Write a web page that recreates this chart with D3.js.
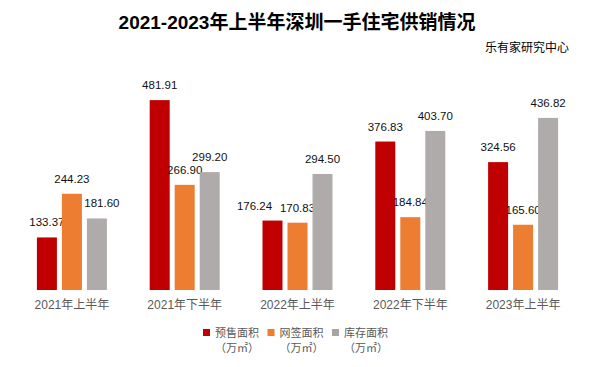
<!DOCTYPE html>
<html>
<head>
<meta charset="utf-8">
<script src="https://cdn.jsdelivr.net/npm/d3@7"></script>
<style>
  html, body { margin: 0; padding: 0; background: #fff; }
  svg { display: block; }
</style>
</head>
<body>
<svg id="chart" width="597" height="367"></svg>
<script>
const categories = ["2021年上半年", "2021年下半年", "2022年上半年", "2022年下半年", "2023年上半年"];
const seriesNames = ["预售面积", "网签面积", "库存面积"];
const presale = [133.37, 481.91, 176.24, 376.83, 324.56];
const signed = [244.23, 266.90, 170.83, 184.84, 165.60];
const inventory = [181.60, 299.20, 294.50, 403.70, 436.82];
const unitLabel = "（万㎡）";
const titleText = "2021-2023年上半年深圳一手住宅供销情况";
const sourceText = "乐有家研究中心";

const colors = ["#C00000", "#ED7D31", "#AFABAB"];
const legendColors = ["#C00000", "#ED7D31", "#A5A5A5"];
const seriesValues = [presale, signed, inventory];

// small label nudges (layout only) to avoid collisions, as in the original
function labelNudge(si, ci) {
  if (si === 0 && ci === 2) return -18;
  if (si === 2 && ci === 0) return 5;
  return 0;
}

const svg = d3.select("#chart");
const cjk = "'Noto Sans CJK SC', sans-serif";
const num = "'Liberation Sans', 'Noto Sans CJK SC', sans-serif";

// Title
svg.append("text")
  .attr("x", 297).attr("y", 29)
  .attr("text-anchor", "middle")
  .style("font-family", num)
  .style("font-weight", "bold")
  .style("font-size", "19px")
  .attr("fill", "#000")
  .text(titleText);

// Source
svg.append("text")
  .attr("x", 569).attr("y", 52)
  .attr("text-anchor", "end")
  .style("font-family", cjk)
  .style("font-size", "12px")
  .attr("fill", "#000")
  .text(sourceText);

const x0 = d3.scaleBand().domain(categories).range([15.5, 579.5]);
const x1 = d3.scaleBand().domain(seriesNames).range([-37.5, 37.5]).paddingInner(0.2).paddingOuter(0.1);
const y = d3.scaleLinear().domain([0, 500]).range([290, 93]);

const groups = svg.append("g").selectAll("g")
  .data(categories)
  .join("g")
  .attr("transform", d => `translate(${x0(d) + x0.bandwidth() / 2},0)`);

groups.each(function(cat, ci) {
  const g = d3.select(this);
  seriesNames.forEach((s, si) => {
    const v = seriesValues[si][ci];
    g.append("rect")
      .attr("x", x1(s))
      .attr("y", y(v))
      .attr("width", x1.bandwidth())
      .attr("height", y(0) - y(v))
      .attr("fill", colors[si]);
    g.append("text")
      .attr("x", x1(s) + x1.bandwidth() / 2 + labelNudge(si, ci))
      .attr("y", y(v) - 11)
      .attr("text-anchor", "middle")
      .style("font-family", num)
      .style("font-size", "11.5px")
      .attr("fill", "#111")
      .text(v.toFixed(2));
  });
});

// X axis labels
const xAxis = d3.axisBottom(x0).tickSize(0).tickPadding(0);
const axG = svg.append("g").attr("transform", "translate(0,300)").call(xAxis);
axG.select(".domain").remove();
axG.selectAll("text")
  .attr("dy", "0.35em")
  .attr("y", 5)
  .style("font-family", num)
  .style("font-size", "12px")
  .attr("fill", "#595959");

// Legend
const legX = [203, 267.5, 332];
const leg = svg.append("g");
seriesNames.forEach((s, i) => {
  leg.append("rect")
    .attr("x", legX[i]).attr("y", 329)
    .attr("width", 7).attr("height", 7)
    .attr("fill", legendColors[i]);
  const t = leg.append("text")
    .attr("text-anchor", "middle")
    .style("font-family", cjk)
    .style("font-size", "11px")
    .attr("fill", "#595959");
  t.append("tspan").attr("x", legX[i] + 34).attr("y", 336.5).text(s);
  t.append("tspan").attr("x", legX[i] + 34).attr("y", 351.5).text(unitLabel);
});
</script>
</body>
</html>
